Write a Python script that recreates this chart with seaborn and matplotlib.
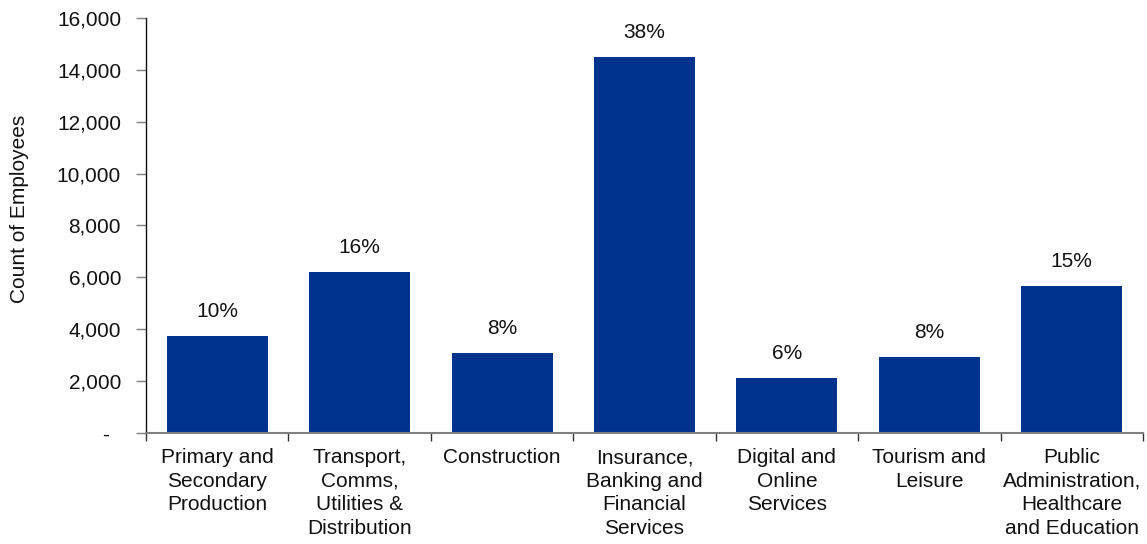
import matplotlib
matplotlib.use("Agg")
import matplotlib.pyplot as plt
from matplotlib.ticker import FuncFormatter, FixedLocator
import seaborn as sns
import pandas as pd

sectors = [
    "Primary and\nSecondary\nProduction",
    "Transport,\nComms,\nUtilities &\nDistribution",
    "Construction",
    "Insurance,\nBanking and\nFinancial\nServices",
    "Digital and\nOnline\nServices",
    "Tourism and\nLeisure",
    "Public\nAdministration,\nHealthcare\nand Education",
]
employees = [3740, 6200, 3080, 14480, 2120, 2930, 5660]

df = pd.DataFrame({"sector": sectors, "employees": employees})
total = sum(employees)

sns.set_theme(style="white")
plt.rcParams["font.family"] = ["Liberation Sans", "DejaVu Sans"]

fig = plt.figure(figsize=(11.47, 5.44), dpi=100)
ax = fig.add_axes([0.1273, 0.204, 0.8692, 0.763])

bar_color = "#00338D"
sns.barplot(data=df, x="sector", y="employees", color=bar_color,
            width=0.71, saturation=1, ax=ax, edgecolor="none")

# share of total above each bar
for i, v in enumerate(employees):
    ax.text(i, v + 580, f"{round(100 * v / total):.0f}%", ha="center",
            va="bottom", fontsize=15, color="#111111")

ax.set_xlim(-0.5, len(sectors) - 0.5)
ax.set_ylim(0, 16000)
ax.set_yticks(range(0, 16001, 2000))
# accounting-style axis: zero shown as a dash
ax.yaxis.set_major_formatter(
    FuncFormatter(lambda y, _: "-  " if y == 0 else f"{int(y):,}"))
ax.set_xlabel("")
ax.set_ylabel("Count of Employees", fontsize=15, color="#111111")
ax.yaxis.set_label_coords(-0.117, 0.54)

ax.tick_params(axis="y", which="major", left=True, length=7, width=1,
               color="#808080", labelsize=15, labelcolor="#111111", pad=11)
ax.tick_params(axis="x", which="major", bottom=False, length=0,
               labelsize=15, labelcolor="#111111", pad=11)
# category separators on the x axis
ax.xaxis.set_minor_locator(FixedLocator([i - 0.5 for i in range(len(sectors) + 1)]))
ax.tick_params(axis="x", which="minor", bottom=True, length=6, width=1,
               color="#333333", direction="out")

for lbl in ax.get_xticklabels():
    lbl.set_linespacing(1.3)

for side in ("top", "right"):
    ax.spines[side].set_visible(False)
ax.spines["left"].set_color("#111111")
ax.spines["left"].set_linewidth(1)
ax.spines["bottom"].set_color("#808080")
ax.spines["bottom"].set_linewidth(1.5)

fig.savefig("out.png", dpi=100, facecolor="white")
